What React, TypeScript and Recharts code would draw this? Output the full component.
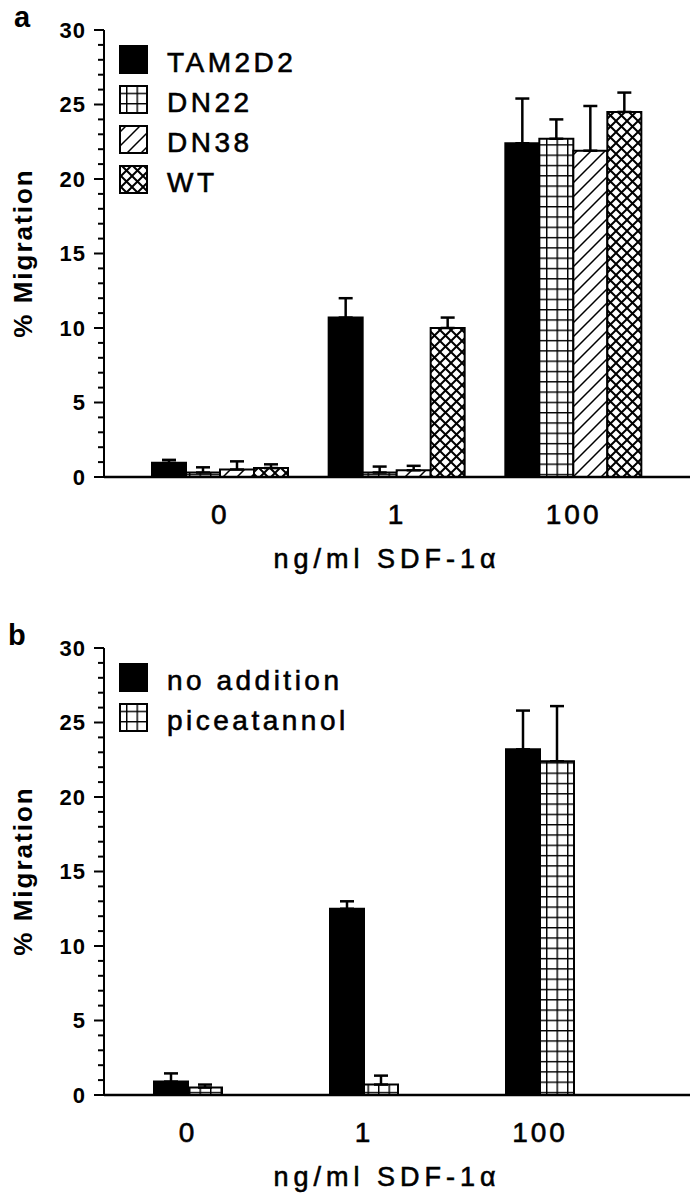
import React from 'react';
import { BarChart, Bar, XAxis, YAxis, ErrorBar } from 'recharts';

const FONT = '"Liberation Sans", Arial, Helvetica, sans-serif';

const doses = ['0', '1', '100'];
const yTicks = Array.from({ length: 31 }, (_, i) => i);

// panel a
const tam2d2 = [0.95, 10.7, 22.4];
const tam2d2Err = [0.2, 1.3, 3.0];
const dn22 = [0.3, 0.3, 22.7];
const dn22Err = [0.35, 0.4, 1.3];
const dn38 = [0.5, 0.45, 21.9];
const dn38Err = [0.55, 0.3, 3.0];
const wt = [0.6, 10.0, 24.5];
const wtErr = [0.25, 0.7, 1.3];

// panel b
const noAddition = [0.9, 12.5, 23.2];
const noAdditionErr = [0.55, 0.5, 2.6];
const piceatannol = [0.5, 0.7, 22.4];
const piceatannolErr = [0.2, 0.6, 3.7];

const seriesA = [
  { key: 'tam2d2', name: 'TAM2D2', fill: '#000', values: tam2d2, errors: tam2d2Err },
  { key: 'dn22', name: 'DN22', fill: 'url(#grid)', values: dn22, errors: dn22Err },
  { key: 'dn38', name: 'DN38', fill: 'url(#diag)', values: dn38, errors: dn38Err },
  { key: 'wt', name: 'WT', fill: 'url(#cross)', values: wt, errors: wtErr },
];

const seriesB = [
  { key: 'noAddition', name: 'no addition', fill: '#000', values: noAddition, errors: noAdditionErr },
  { key: 'piceatannol', name: 'piceatannol', fill: 'url(#grid)', values: piceatannol, errors: piceatannolErr },
];

const PatternDefs = () => (
  <svg width={0} height={0} style={{ position: 'absolute' }}>
    <defs>
      <pattern id="grid" width={10.5} height={10.3} patternUnits="userSpaceOnUse">
        <rect width={10.5} height={10.3} fill="#fff" />
        <path d="M0 0.7 H10.5 M0.7 0 V10.3" stroke="#000" strokeWidth={1.5} fill="none" />
      </pattern>
      <pattern id="diag" width={14} height={14} patternUnits="userSpaceOnUse">
        <rect width={14} height={14} fill="#fff" />
        <path d="M-2 16 L16 -2 M-9 9 L9 -9 M5 23 L23 5" stroke="#000" strokeWidth={1.5} fill="none" />
      </pattern>
      <pattern id="cross" width={11} height={11} patternUnits="userSpaceOnUse">
        <rect width={11} height={11} fill="#fff" />
        <path d="M-1 -1 L12 12 M12 -1 L-1 12" stroke="#000" strokeWidth={2} fill="none" />
      </pattern>
    </defs>
  </svg>
);

const YTick = (props: any) => {
  const { x, y, payload } = props;
  const v = payload.value;
  const major = v % 5 === 0;
  return (
    <g>
      <line x1={x - (major ? 10 : 6)} x2={x} y1={y} y2={y} stroke="#000" strokeWidth={2} />
      {major && (
        <text x={x - 18} y={y} dy="0.36em" textAnchor="end" fontFamily={FONT} fontWeight="bold" fontSize={22} letterSpacing={1} fill="#000">
          {v}
        </text>
      )}
    </g>
  );
};

const XTick = (props: any) => {
  const { x, y, payload } = props;
  return (
    <text x={x} y={y + 47} textAnchor="middle" fontFamily={FONT} fontSize={28} letterSpacing={3} fill="#000" stroke="#000" strokeWidth={0.6}>
      {payload.value}
    </text>
  );
};

function Panel({ top, height, letter, letterX, series, padding }: any) {
  const data = doses.map((dose, i) => {
    const row: any = { dose };
    series.forEach((s: any) => {
      row[s.key] = s.values[i];
      row[s.key + 'Err'] = [0, s.errors[i]];
    });
    return row;
  });
  const plotBottom = 477;
  return (
    <div style={{ position: 'absolute', left: 0, top, width: 699, height }}>
      <BarChart
        width={699}
        height={height}
        data={data}
        margin={{ top: 30, right: 9, bottom: 0, left: 44 }}
        barGap={0}
        barSize={34}
      >
        <XAxis
          dataKey="dose"
          height={height - plotBottom}
          padding={padding}
          tickLine={false}
          tickSize={0}
          tickMargin={0}
          tick={<XTick />}
          axisLine={{ stroke: '#000', strokeWidth: 2.5 }}
          label={{
            content: () => (
              <text x={387} y={plotBottom + 91} textAnchor="middle" fontFamily={FONT} fontSize={27} letterSpacing={5} fill="#000" stroke="#000" strokeWidth={0.6}>
                ng/ml SDF-1α
              </text>
            ),
          }}
        />
        <XAxis xAxisId="top" dataKey="dose" orientation="top" height={0} tick={false} tickLine={false} axisLine={{ stroke: '#000', strokeWidth: 2 }} />
        <YAxis
          domain={[0, 30]}
          ticks={yTicks}
          interval={0}
          width={60}
          tickLine={false}
          tickSize={0}
          tickMargin={0}
          tick={<YTick />}
          axisLine={{ stroke: '#000', strokeWidth: 2 }}
          label={{
            content: () => (
              <text
                x={32}
                y={253}
                transform="rotate(-90 32 253)"
                textAnchor="middle"
                fontFamily={FONT}
                fontWeight="bold"
                fontSize={26}
                letterSpacing={2}
                fill="#000"
              >
                % Migration
              </text>
            ),
          }}
        />
        <YAxis yAxisId="right" orientation="right" domain={[0, 30]} width={0} tick={false} tickLine={false} axisLine={{ stroke: '#000', strokeWidth: 2 }} />
        {series.map((s: any) => (
          <Bar key={s.key} dataKey={s.key} name={s.name} fill={s.fill} stroke="#000" strokeWidth={2} isAnimationActive={false}>
            <ErrorBar dataKey={s.key + 'Err'} direction="y" width={7} stroke="#000" strokeWidth={2.5} isAnimationActive={false} />
          </Bar>
        ))}
      </BarChart>
      <svg width={699} height={height} style={{ position: 'absolute', left: 0, top: 0, pointerEvents: 'none', overflow: 'visible' }}>
        <text x={letterX} y={27} fontFamily={FONT} fontWeight="bold" fontSize={29} fill="#000">
          {letter}
        </text>
        {series.map((s: any, i: number) => (
          <g key={s.key}>
            <rect x={120} y={46 + i * 40} width={27} height={27} fill={s.fill} stroke="#000" strokeWidth={2} />
            <text x={167} y={72 + i * 40} fontFamily={FONT} fontSize={28} letterSpacing={3.5} fill="#000" stroke="#000" strokeWidth={0.6}>
              {s.name}
            </text>
          </g>
        ))}
      </svg>
    </div>
  );
}

export default function App() {
  return (
    <div style={{ position: 'absolute', left: 0, top: 0, width: 699, height: 1199, background: '#fff' }}>
      <PatternDefs />
      <Panel top={0} height={580} letter="a" letterX={14} series={seriesA} padding={{ left: 28, right: 28 }} />
      <Panel top={618} height={581} letter="b" letterX={8} series={seriesB} padding={{ left: -4, right: 62 }} />
    </div>
  );
}
